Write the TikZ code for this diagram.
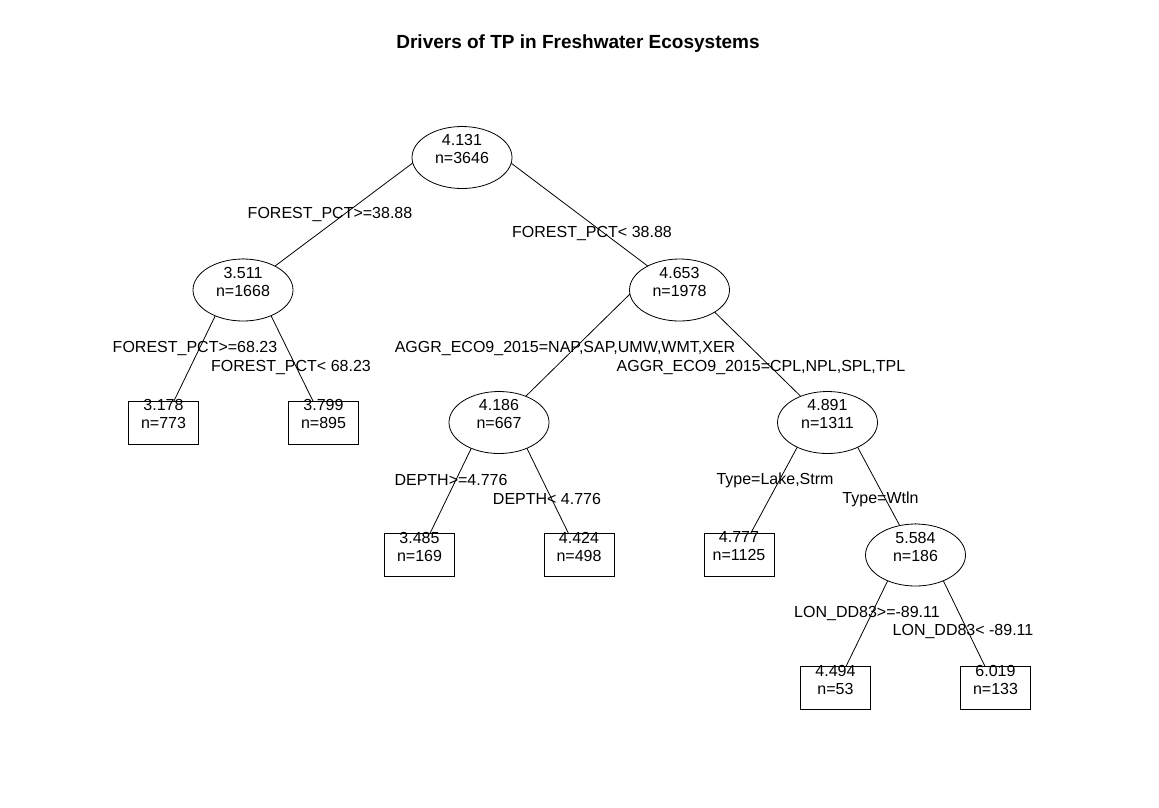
\documentclass[tikz,border=0pt]{standalone}
\usepackage{fontspec}
\setmainfont{Liberation Sans}
\usetikzlibrary{shapes, backgrounds}

\begin{document}
\begin{tikzpicture}[x=1pt, y=-1pt, every node/.style={font=\fontsize{16}{18}\selectfont}]
	\tikzstyle{split}=[ellipse, draw=black, line width=0.8pt, fill=white, minimum width=100pt, minimum height=62pt, inner sep=0pt]
	\tikzstyle{leaf}=[rectangle, draw=black, line width=0.8pt, fill=white, minimum width=70pt, minimum height=43pt, inner sep=0pt]
	\tikzstyle{val}=[align=center, yshift=8.5pt, inner sep=0pt]
	\tikzstyle{cut}=[anchor=base, inner sep=0pt]
	\tikzstyle{branch}=[draw=black, line width=0.8pt]
	\useasboundingbox (0,0) rectangle (1159,807);

	\node (title) at (578,48.5) [anchor=base, inner sep=0pt] {\fontsize{19}{22}\selectfont\bfseries Drivers of TP in Freshwater Ecosystems};

	% splits
	\node (n0) at (462,157.5) [split, label={[val]center:{4.131\\n=3646}}] {};
	\node (n1) at (243,290) [split, label={[val]center:{3.511\\n=1668}}] {};
	\node (n2) at (679.5,290) [split, label={[val]center:{4.653\\n=1978}}] {};
	\node (n3) at (499,422.5) [split, label={[val]center:{4.186\\n=667}}] {};
	\node (n4) at (827.5,422.5) [split, label={[val]center:{4.891\\n=1311}}] {};
	\node (n5) at (915.5,555) [split, label={[val]center:{5.584\\n=186}}] {};

	% leaves
	\node (l1) at (163.5,422.5) [leaf, label={[val]center:{3.178\\n=773}}] {};
	\node (l2) at (323.5,422.5) [leaf, label={[val]center:{3.799\\n=895}}] {};
	\node (l3) at (419.5,555) [leaf, label={[val]center:{3.485\\n=169}}] {};
	\node (l4) at (579,555) [leaf, label={[val]center:{4.424\\n=498}}] {};
	\node (l5) at (739,555) [leaf, label={[val]center:{4.777\\n=1125}}] {};
	\node (l6) at (835.5,688) [leaf, label={[val]center:{4.494\\n=53}}] {};
	\node (l7) at (995.5,688) [leaf, label={[val]center:{6.019\\n=133}}] {};

	\begin{pgfonlayer}{background}
	\draw[branch] (n0.north) -- (n1.center);
	\draw[branch] (n0.north) -- (n2.center);
	\draw[branch] (n1.north) -- (l1.center);
	\draw[branch] (n1.north) -- (l2.center);
	\draw[branch] ([xshift=-16.5pt,yshift=-3pt]n2.north) -- (n3.center);
	\draw[branch] ([xshift=-16.5pt,yshift=-3pt]n2.north) -- (n4.center);
	\draw[branch] (n3.north) -- (l3.center);
	\draw[branch] (n3.north) -- (l4.center);
	\draw[branch] (n4.north) -- (l5.center);
	\draw[branch] (n4.north) -- (n5.center);
	\draw[branch] (n5.north) -- (l6.center);
	\draw[branch] (n5.north) -- (l7.center);
	\end{pgfonlayer}

	% split rules
	\node (r0l) at (330,218.7) [cut] {FOREST\_PCT>=38.88};
	\node (r0r) at (592,237.7) [cut] {FOREST\_PCT< 38.88};
	\node (r1l) at (195,352.7) [cut] {FOREST\_PCT>=68.23};
	\node (r1r) at (291,371.7) [cut] {FOREST\_PCT< 68.23};
	\node (r2l) at (565,352.7) [cut] {AGGR\_ECO9\_2015=NAP,SAP,UMW,WMT,XER};
	\node (r2r) at (761,371.7) [cut] {AGGR\_ECO9\_2015=CPL,NPL,SPL,TPL};
	\node (r3l) at (451,485.7) [cut] {DEPTH>=4.776};
	\node (r3r) at (547,504.7) [cut] {DEPTH< 4.776};
	\node (r4l) at (775,484.7) [cut] {Type=Lake,Strm};
	\node (r4r) at (880.5,503.7) [cut] {Type=Wtln};
	\node (r5l) at (867,617.7) [cut] {LON\_DD83>=-89.11};
	\node (r5r) at (963,635.7) [cut] {LON\_DD83< -89.11};
\end{tikzpicture}
\end{document}
